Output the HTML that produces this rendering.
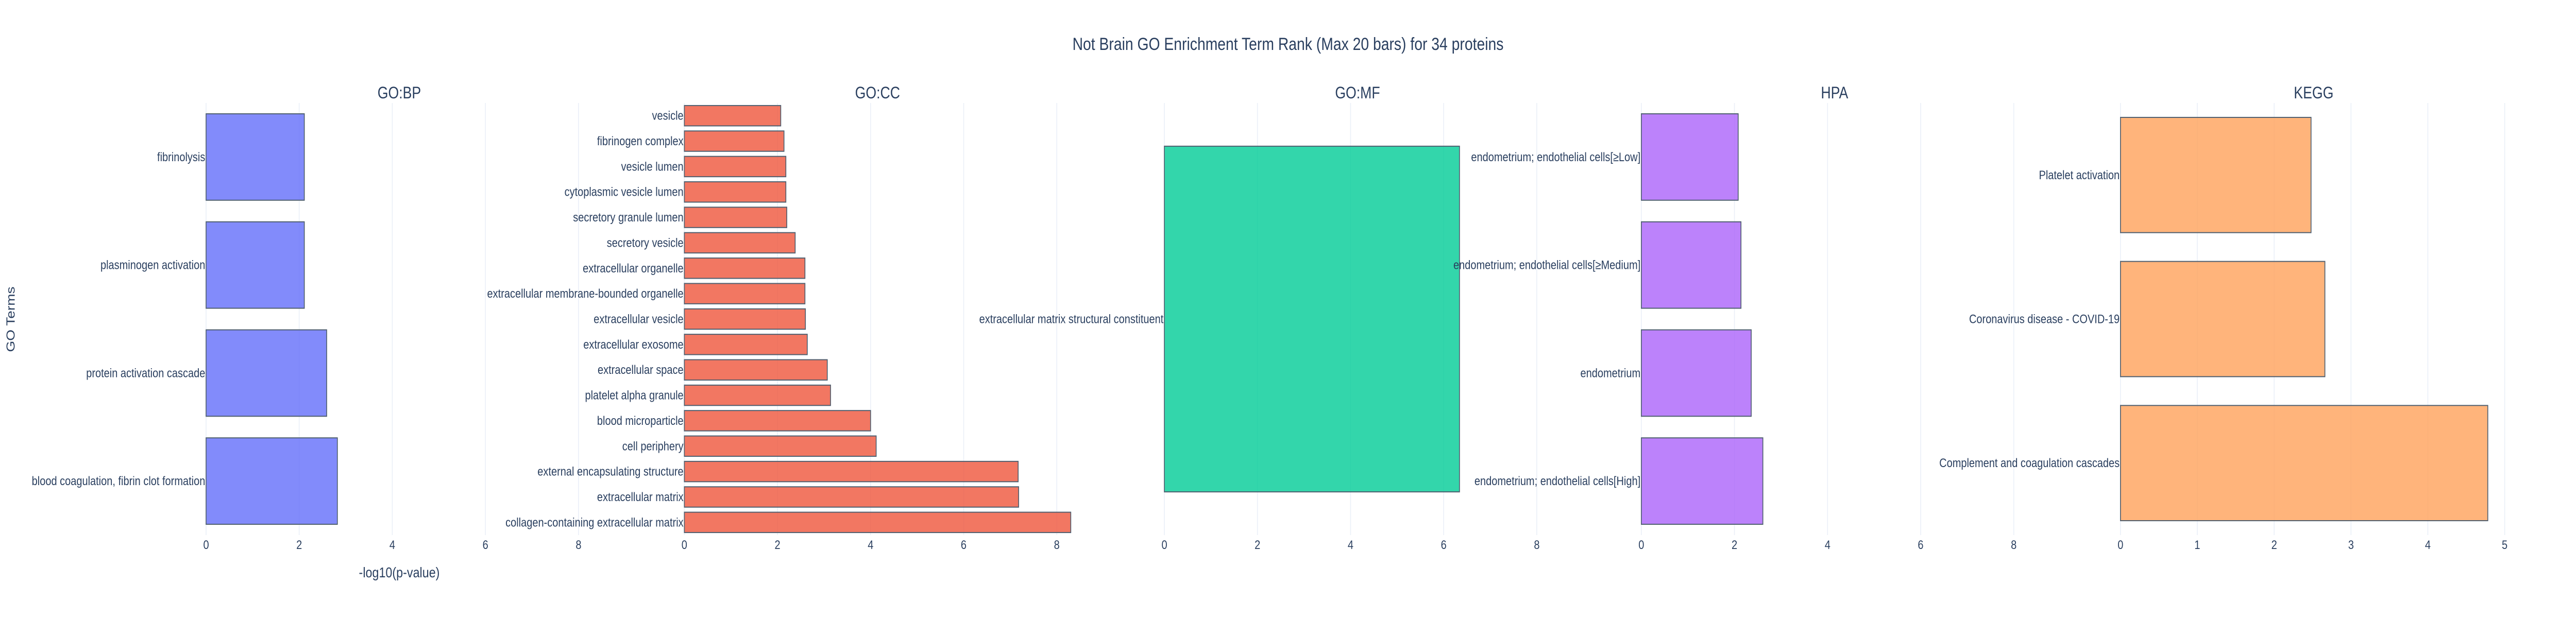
<!DOCTYPE html>
<html><head><meta charset="utf-8">
<style>
html,body{margin:0;padding:0;background:#fff;width:100%;height:100%;overflow:hidden;}
svg{display:block;font-family:"Liberation Sans",sans-serif;width:100vw;height:100vh;}
</style></head>
<body>
<svg id="chart" viewBox="0 0 6000 1200" preserveAspectRatio="none" xmlns="http://www.w3.org/2000/svg">
<rect x="0" y="0" width="6000" height="1200" fill="#fff"/>
<text x="3000" y="97" text-anchor="middle" font-size="34" fill="#2a3f5f">Not Brain GO Enrichment Term Rank (Max 20 bars) for 34 proteins</text>
<text x="930" y="1121" text-anchor="middle" font-size="28" fill="#2a3f5f">-log10(p-value)</text>
<text x="0" y="0" transform="translate(34,620) rotate(-90)" text-anchor="middle" font-size="28" fill="#2a3f5f">GO Terms</text>
<g id="plots"></g>
</svg>
<script>
const bpTerms = ["blood coagulation, fibrin clot formation","protein activation cascade","plasminogen activation","fibrinolysis"];
const bpValues = [2.82,2.59,2.11,2.11];
const ccTerms = ["collagen-containing extracellular matrix","extracellular matrix","external encapsulating structure","cell periphery","blood microparticle","platelet alpha granule","extracellular space","extracellular exosome","extracellular vesicle","extracellular membrane-bounded organelle","extracellular organelle","secretory vesicle","secretory granule lumen","cytoplasmic vesicle lumen","vesicle lumen","fibrinogen complex","vesicle"];
const ccValues = [8.30,7.18,7.17,4.12,4.00,3.14,3.07,2.64,2.60,2.59,2.59,2.38,2.20,2.18,2.18,2.14,2.07];
const mfTerms = ["extracellular matrix structural constituent"];
const mfValues = [6.34];
const hpaTerms = ["endometrium; endothelial cells[High]","endometrium","endometrium; endothelial cells[\u2265Medium]","endometrium; endothelial cells[\u2265Low]"];
const hpaValues = [2.61,2.36,2.14,2.08];
const keggTerms = ["Complement and coagulation cascades","Coronavirus disease - COVID-19","Platelet activation"];
const keggValues = [4.78,2.66,2.48];
const panelTitles = ["GO:BP","GO:CC","GO:MF","HPA","KEGG"];
const sharedTicks = [0,2,4,6,8];
const keggTicks = [0,1,2,3,4,5];

const NS="http://www.w3.org/2000/svg";
const root=document.getElementById('plots');
const TOP=200, BOT=1039, W=900;
const starts=[480,1594,2712,3823,4939];
const sharedMax=Math.max(...bpValues,...ccValues,...mfValues,...hpaValues);
const panels=[
 {terms:bpTerms,vals:bpValues,fill:"#636efa",max:sharedMax,ticks:sharedTicks,key:"bp"},
 {terms:ccTerms,vals:ccValues,fill:"#ef553b",max:sharedMax,ticks:sharedTicks,key:"cc"},
 {terms:mfTerms,vals:mfValues,fill:"#00cc96",max:sharedMax,ticks:sharedTicks,key:"mf"},
 {terms:hpaTerms,vals:hpaValues,fill:"#ab63fa",max:sharedMax,ticks:sharedTicks,key:"hpa"},
 {terms:keggTerms,vals:keggValues,fill:"#ffa15a",max:Math.max(...keggValues)*1.052,ticks:keggTicks,key:"kegg"}
];
function mk(tag,attrs,parent){const e=document.createElementNS(NS,tag);for(const k in attrs)e.setAttribute(k,attrs[k]);parent.appendChild(e);return e;}
panels.forEach((p,i)=>{
 const x0=starts[i];
 const xs=v=>x0+v/p.max*W;
 const g=mk('g',{},root);
 
 
 p.ticks.forEach(t=>{
  const gl=mk('line',{x1:xs(t),x2:xs(t),y1:TOP,y2:BOT,stroke:"#ebf0f8","stroke-width":2},g);
  
  
  const tl=mk('text',{x:xs(t),y:BOT+27,"text-anchor":"middle","font-size":24,fill:"#2a3f5f"},g);
  tl.textContent=String(t);
  
  
 });
 const n=p.terms.length, band=(BOT-TOP)/n, bh=band*0.8;
 p.terms.forEach((term,j)=>{
  const cy=BOT-band*(j+0.5);
  const r=mk('rect',{x:xs(0),y:cy-bh/2,width:xs(p.vals[j])-xs(0),height:bh,fill:p.fill,"fill-opacity":0.8,stroke:"#506070","stroke-width":2},g);
  
  
  const lb=mk('text',{x:x0-2,y:cy+8,"text-anchor":"end","font-size":24,fill:"#2a3f5f"},g);
  lb.textContent=term;
  
  
 });
 const tt=mk('text',{x:x0+W/2,y:191,"text-anchor":"middle","font-size":32,fill:"#2a3f5f"},g);
 tt.textContent=panelTitles[i];
 
 
});
</script>
</body></html>
